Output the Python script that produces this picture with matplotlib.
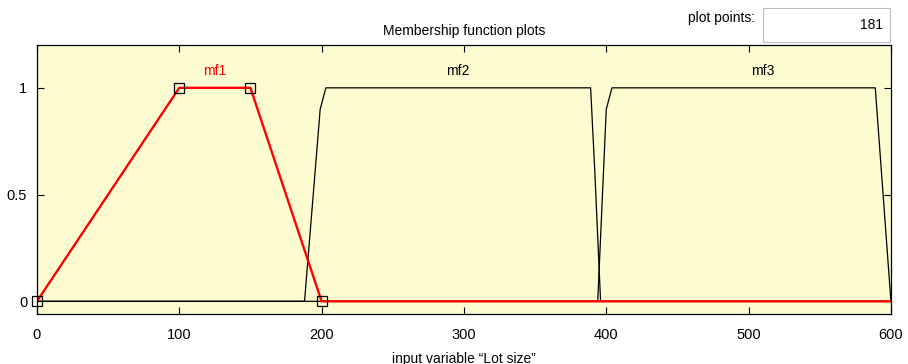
import matplotlib
matplotlib.use("Agg")
import matplotlib.pyplot as plt
from matplotlib.patches import Rectangle

plt.rcParams['font.family'] = ['Liberation Sans', 'DejaVu Sans']

# membership functions
mf1_x = [0, 100, 150, 200, 600]
mf1_y = [0, 1, 1, 0, 0]
mf1_params = [0, 100, 150, 200]

mf2_x = [0, 188, 199, 203, 389, 392, 396, 600]
mf2_y = [0, 0, 0.9, 1, 1, 0.6, 0, 0]

mf3_x = [0, 394, 400, 404, 589, 600]
mf3_y = [0, 0, 0.9, 1, 1, 0]

labels = ["mf1", "mf2", "mf3"]
label_x = [125, 296, 510]
label_y = 1.08

x_ticks = [0, 100, 200, 300, 400, 500, 600]
y_ticks = [0, 0.5, 1]
plot_points = 181

fig = plt.figure(figsize=(9.08, 3.64), dpi=100)
ax = fig.add_axes([0.0407, 0.137, 0.9405, 0.739])
ax.set_facecolor('#FDFBD0')

ax.plot(mf2_x, mf2_y, color='black', lw=0.9)
ax.plot(mf3_x, mf3_y, color='black', lw=0.9)
ax.plot(mf1_x, mf1_y, color='red', lw=1.7)
ax.plot(mf1_params, [0, 1, 1, 0], ls='none', marker='s', ms=7,
        mfc='none', mec='black', mew=0.9, clip_on=False)

for i in range(len(labels)):
    c = 'red' if i == 0 else 'black'
    ax.text(label_x[i], label_y, labels[i], color=c, ha='center', va='center', fontsize=10)

ax.set_xlim(0, 600)
ax.set_ylim(-0.06, 1.2)
ax.set_xticks(x_ticks)
ax.set_yticks(y_ticks)
ax.set_yticklabels(["0", "0.5", "1"])
ax.tick_params(direction='in', top=True, right=True, labelsize=10.5, length=5, width=0.8)
ax.tick_params(axis='x', pad=10)
ax.tick_params(axis='y', pad=7)
for s in ax.spines.values():
    s.set_linewidth(0.9)

ax.set_title("Membership function plots", fontsize=10, pad=7)
ax.set_xlabel("input variable \u201cLot size\u201d", fontsize=10, labelpad=7)

# plot points box
fig.text(755 / 908, 1 - 18 / 364, "plot points:", ha='right', va='center', fontsize=10)
fig.patches.append(Rectangle((763 / 908, 1 - 42 / 364), 127 / 908, 34 / 364,
                             transform=fig.transFigure, fc='white', ec='#BBBBBB', lw=0.8))
fig.text(883 / 908, 1 - 25 / 364, str(plot_points), ha='right', va='center', fontsize=10)

fig.savefig("out.png", dpi=100)
